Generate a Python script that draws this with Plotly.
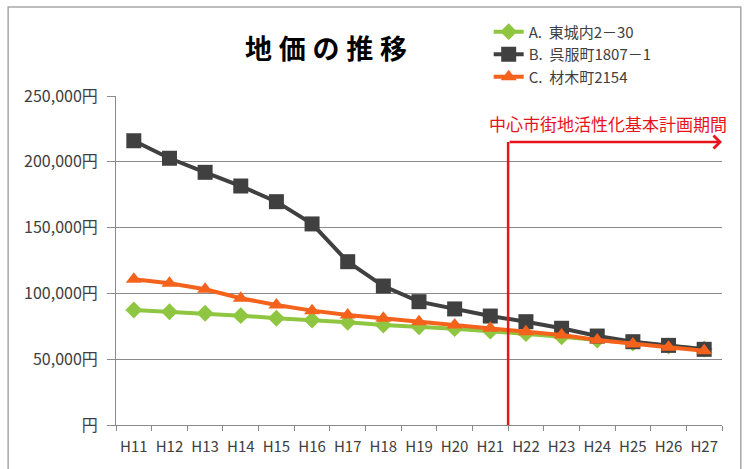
import plotly.graph_objects as go

categories = ["H11", "H12", "H13", "H14", "H15", "H16", "H17", "H18", "H19",
              "H20", "H21", "H22", "H23", "H24", "H25", "H26", "H27"]
series_a_name = "A.  東城内2－30"
series_b_name = "B.  呉服町1807－1"
series_c_name = "C.  材木町2154"
series_a = [87400, 86100, 84900, 83100, 81100, 79800, 78000, 76000, 74700,
            73200, 71300, 69400, 67000, 64600, 62300, 60000, 57800]
series_b = [216000, 202700, 192000, 181600, 169700, 152800, 124100, 105600, 93700,
            88200, 82800, 78500, 73500, 67600, 63300, 60500, 57500]
series_c = [110700, 107700, 103100, 96300, 91200, 86900, 83600, 81100, 78500,
            76000, 73500, 70900, 68400, 64600, 61500, 59000, 56500]
y_tickvals = [0, 50000, 100000, 150000, 200000, 250000]
y_ticktext = ["円", "50,000円", "100,000円", "150,000円", "200,000円", "250,000円"]
title_text = "地\u2005価\u2005の\u2005推\u2005移"
period_text = "中心市街地活性化基本計画期間"
period_start = 10.5
period_y = 215000

FONT = "Noto Sans CJK JP"
GRID = "#8a8a8a"
RED = "#e8131d"

fig = go.Figure()
fig.add_trace(go.Scatter(
    x=categories, y=series_a, name=series_a_name, mode="lines+markers",
    line=dict(color="#8fc641", width=4),
    marker=dict(symbol="diamond", size=13, color="#8fc641")))
fig.add_trace(go.Scatter(
    x=categories, y=series_b, name=series_b_name, mode="lines+markers",
    line=dict(color="#404040", width=4),
    marker=dict(symbol="square", size=15, color="#404040")))
fig.add_trace(go.Scatter(
    x=categories, y=series_c, name=series_c_name, mode="lines+markers",
    line=dict(color="#f4621c", width=4),
    marker=dict(symbol="triangle-up", size=14, color="#f4621c")))

fig.add_shape(type="line", xref="x", yref="y", x0=period_start, x1=period_start,
              y0=0, y1=period_y, line=dict(color=RED, width=2.5), layer="above")
fig.add_annotation(x=16.5, y=period_y, ax=period_start, ay=period_y,
                   xref="x", yref="y", axref="x", ayref="y", text="",
                   showarrow=True, arrowhead=4, arrowsize=1, arrowwidth=2.5,
                   arrowcolor=RED)
fig.add_annotation(x=0.812, y=0.915, xref="paper", yref="paper", text=period_text,
                   xanchor="center", yanchor="middle",
                   showarrow=False, font=dict(family=FONT, size=17, color=RED))
fig.add_annotation(x=0.3465, y=1.146, xref="paper", yref="paper",
                   xanchor="center", yanchor="middle",
                   text="<b>" + title_text + "</b>", showarrow=False,
                   font=dict(family=FONT, size=27, color="#000000"))
fig.add_shape(type="rect", xref="paper", yref="paper", x0=-0.178, x1=1.031,
              y0=-0.25, y1=1.2705, line=dict(color="#a8a8a8", width=1.5))

fig.update_layout(
    width=746, height=469,
    margin=dict(l=116, r=24, t=96, b=44),
    paper_bgcolor="white", plot_bgcolor="white",
    font=dict(family=FONT, color="#404040"),
    showlegend=True,
    legend=dict(x=0.615, y=1.245, xanchor="left", yanchor="top",
                font=dict(family=FONT, size=15, color="#404040"),
                bgcolor="rgba(0,0,0,0)", itemwidth=30, tracegroupgap=0),
    xaxis=dict(type="category", range=[-0.5, 16.5], tickson="boundaries",
               ticks="outside", ticklen=5, tickcolor=GRID, showline=True,
               linecolor=GRID, linewidth=1, showgrid=False, tickangle=0,
               ticklabelstandoff=8,
               tickfont=dict(family=FONT, size=15, color="#404040")),
    yaxis=dict(range=[0, 250000], tickvals=y_tickvals, ticktext=y_ticktext,
               ticks="outside", ticklen=8, tickcolor=GRID, showline=True,
               linecolor=GRID, linewidth=1, showgrid=True, gridcolor=GRID,
               gridwidth=1, zeroline=False, ticklabelstandoff=6,
               tickfont=dict(family=FONT, size=16, color="#404040")),
)

fig.write_html("out.html")
